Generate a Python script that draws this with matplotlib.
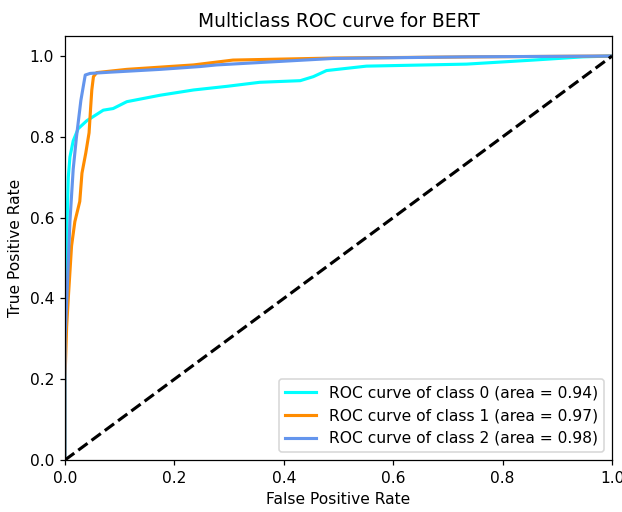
import numpy as np
import matplotlib.pyplot as plt

# ROC points (fpr, tpr)
fpr0 = [0.0, 0.0, 0.003, 0.006, 0.009, 0.015, 0.024, 0.04, 0.07, 0.088, 0.113, 0.174, 0.235,
        0.296, 0.356, 0.43, 0.454, 0.478, 0.551, 0.734, 0.856, 0.947, 1.0]
tpr0 = [0.0, 0.3, 0.55, 0.70, 0.75, 0.79, 0.82, 0.84, 0.866, 0.87, 0.887, 0.903, 0.916,
        0.925, 0.935, 0.939, 0.949, 0.964, 0.975, 0.98, 0.99, 0.998, 1.0]

fpr1 = [0.0, 0.0, 0.003, 0.006, 0.012, 0.018, 0.027, 0.031, 0.038, 0.044, 0.047, 0.049, 0.052,
        0.058, 0.113, 0.235, 0.307, 0.49, 0.75, 1.0]
tpr1 = [0.0, 0.2, 0.33, 0.40, 0.53, 0.59, 0.64, 0.71, 0.76, 0.81, 0.875, 0.916, 0.949,
        0.959, 0.967, 0.978, 0.99, 0.995, 0.998, 1.0]

fpr2 = [0.0, 0.0, 0.004, 0.009, 0.015, 0.021, 0.029, 0.037, 0.046, 0.082, 0.174, 0.247, 0.277,
        0.49, 0.735, 1.0]
tpr2 = [0.0, 0.3, 0.42, 0.59, 0.72, 0.80, 0.89, 0.953, 0.957, 0.96, 0.967, 0.974, 0.978,
        0.994, 0.998, 1.0]

aucs = [0.94, 0.97, 0.98]
colors = ['aqua', 'darkorange', 'cornflowerblue']

dpi = 112
fig = plt.figure(figsize=(622 / dpi, 512 / dpi), dpi=dpi)
ax = fig.add_axes([0.1045, 0.1016, 0.8795, 0.8284])

for i, (f, t) in enumerate([(fpr0, tpr0), (fpr1, tpr1), (fpr2, tpr2)]):
    ax.plot(f, t, color=colors[i], lw=2,
            label='ROC curve of class {0} (area = {1:0.2f})'.format(i, aucs[i]))

ax.plot([0, 1], [0, 1], 'k--', lw=2)
ax.set_xlim([0.0, 1.0])
ax.set_ylim([0.0, 1.05])
ax.set_xlabel('False Positive Rate')
ax.set_ylabel('True Positive Rate')
ax.set_title('Multiclass ROC curve for BERT')
ax.legend(loc='lower right')

plt.savefig('out.png', dpi=dpi)
